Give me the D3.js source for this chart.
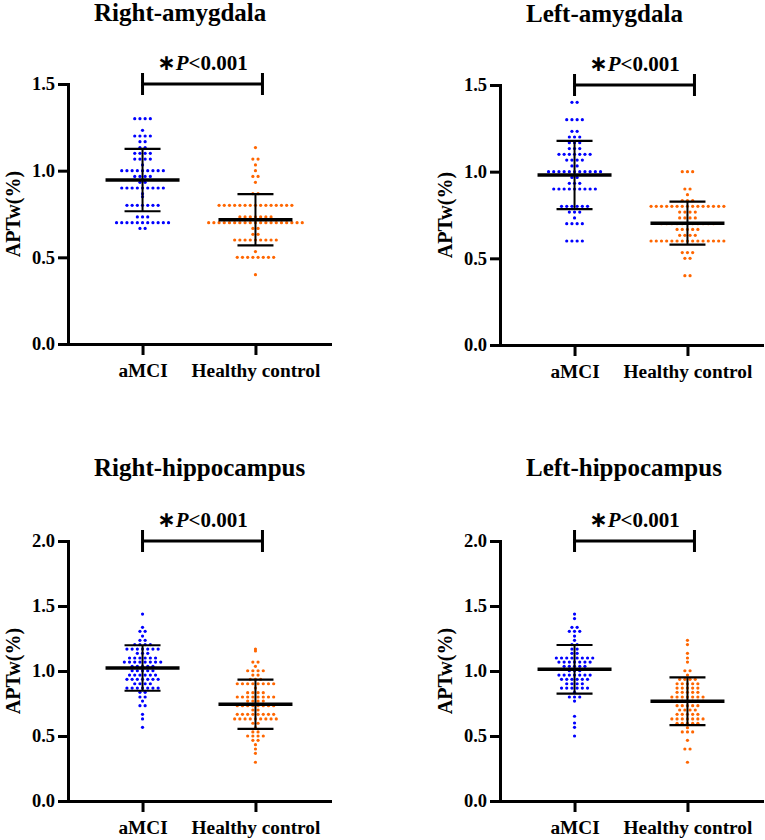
<!DOCTYPE html>
<html>
<head>
<meta charset="utf-8">
<script src="https://cdn.jsdelivr.net/npm/d3@7"></script>
<style>
  body { margin: 0; background: #fff; }
  text { font-family: "Liberation Serif", "Times New Roman", serif; font-weight: bold; }
</style>
</head>
<body>
<svg width="765" height="840"></svg>
<script>
// groups and panels
const groups = ['aMCI', 'Healthy control'];
const titles = ['Right-amygdala', 'Left-amygdala', 'Right-hippocampus', 'Left-hippocampus'];
const pText = 'P<0.001';

// binned dots: [APTw value, number of subjects in that row]
const rightAmygdalaMCI = [[1.30,4],[1.233,1],[1.20,4],[1.167,2],[1.133,2],[1.10,4],[1.067,4],[1.033,1],[1.00,9],[0.967,4],[0.933,2],[0.90,9],[0.867,1],[0.85,1],[0.80,7],[0.733,3],[0.70,11],[0.667,2]];
const rightAmygdalaHC = [[1.133,1],[1.067,2],[1.033,1],[1.00,1],[0.967,2],[0.933,1],[0.867,2],[0.80,15],[0.733,7],[0.70,19],[0.667,2],[0.633,2],[0.60,9],[0.533,1],[0.50,8],[0.40,1]];
const leftAmygdalaMCI = [[1.40,2],[1.30,4],[1.233,2],[1.20,3],[1.167,3],[1.133,3],[1.10,7],[1.067,4],[1.033,2],[1.00,11],[0.967,2],[0.933,3],[0.90,9],[0.80,6],[0.767,3],[0.733,1],[0.70,4],[0.60,4]];
const leftAmygdalaHC = [[1.00,3],[0.90,2],[0.867,1],[0.833,3],[0.80,15],[0.767,4],[0.733,4],[0.70,11],[0.667,5],[0.633,4],[0.60,15],[0.533,3],[0.50,2],[0.40,2]];
const rightHippoMCI = [[1.438,1],[1.336,1],[1.305,2],[1.269,1],[1.236,2],[1.203,4],[1.169,7],[1.136,3],[1.10,6],[1.069,8],[1.036,5],[1.002,5],[0.969,6],[0.936,7],[0.902,4],[0.869,7],[0.836,2],[0.80,2],[0.769,1],[0.733,2],[0.667,1],[0.631,1],[0.567,1]];
const rightHippoHC = [[1.169,1],[1.154,1],[1.069,2],[1.036,1],[1.002,4],[0.969,2],[0.936,3],[0.902,8],[0.869,1],[0.833,4],[0.80,8],[0.769,4],[0.733,8],[0.70,2],[0.667,8],[0.631,9],[0.598,2],[0.564,1],[0.531,2],[0.50,4],[0.467,2],[0.433,1],[0.40,1],[0.367,1],[0.298,1]];
const leftHippoMCI = [[1.438,1],[1.403,1],[1.336,2],[1.305,3],[1.269,1],[1.236,1],[1.203,2],[1.169,2],[1.136,2],[1.10,8],[1.069,7],[1.036,5],[1.002,3],[0.969,7],[0.936,6],[0.902,4],[0.869,6],[0.836,1],[0.80,3],[0.769,1],[0.652,1],[0.60,1],[0.567,1],[0.50,1]];
const leftHippoHC = [[1.236,1],[1.203,1],[1.136,1],[1.10,1],[1.069,1],[1.002,2],[0.969,1],[0.936,4],[0.902,5],[0.869,5],[0.836,5],[0.80,7],[0.769,7],[0.733,5],[0.70,4],[0.667,5],[0.631,7],[0.598,5],[0.564,1],[0.531,3],[0.467,1],[0.40,2],[0.298,1]];

// mean and SD per panel: [aMCI, HC]
const means = [[0.946, 0.717], [0.981, 0.703], [1.023, 0.744], [1.013, 0.767]];
const sds = [[0.18, 0.148], [0.197, 0.124], [0.175, 0.189], [0.187, 0.184]];

const yMax = [1.5, 1.5, 2.0, 2.0];
const yTicks = [[0, 0.5, 1.0, 1.5], [0, 0.5, 1.0, 1.5], [0, 0.5, 1.0, 1.5, 2.0], [0, 0.5, 1.0, 1.5, 2.0]];

const dots = [
  [rightAmygdalaMCI, rightAmygdalaHC],
  [leftAmygdalaMCI, leftAmygdalaHC],
  [rightHippoMCI, rightHippoHC],
  [leftHippoMCI, leftHippoHC]
];
const colors = ['#0000ff', '#ff6600'];

const svg = d3.select('svg');

// panel origin = where the y axis meets the x axis
const origins = [[68, 344], [500, 345], [68, 801], [500, 801]];
const plotH = 260;
const plotW = 262;
const dotStep = 5.2;

titles.forEach((title, k) => {
  const [ox, oy] = origins[k];
  const g = svg.append('g').attr('transform', `translate(${ox}, ${oy - plotH})`);

  const y = d3.scaleLinear().domain([0, yMax[k]]).range([plotH, 0]);
  const x = d3.scalePoint().domain(groups).range([0, plotW]).padding(0.66);

  // title, left aligned
  g.append('text')
    .attr('x', 26)
    .attr('y', k < 2 ? -63 : -65)
    .attr('font-size', 25)
    .text(title);

  // y axis
  const yAxis = g.append('g')
    .call(d3.axisLeft(y).tickValues(yTicks[k]).tickFormat(d3.format('.1f')).tickSize(10).tickSizeOuter(0).tickPadding(3));
  yAxis.select('.domain').attr('stroke-width', 3).attr('stroke-linecap', 'square');
  yAxis.selectAll('.tick line').attr('stroke-width', 3);
  yAxis.selectAll('.tick text').attr('font-size', 18.5).attr('font-family', '"Liberation Serif", serif').attr('font-weight', 'bold').attr('fill', '#000');

  // x axis
  const xAxis = g.append('g')
    .attr('transform', `translate(0, ${plotH})`)
    .call(d3.axisBottom(x).tickSize(11).tickSizeOuter(0).tickPadding(8));
  xAxis.select('.domain').attr('stroke-width', 3).attr('stroke-linecap', 'square');
  xAxis.selectAll('.tick line').attr('stroke-width', 3);
  xAxis.selectAll('.tick text').attr('font-size', 19.3).attr('font-family', '"Liberation Serif", serif').attr('font-weight', 'bold').attr('fill', '#000');

  // y label
  g.append('text')
    .attr('transform', `translate(-48, ${plotH / 2}) rotate(-90)`)
    .attr('text-anchor', 'middle')
    .attr('font-size', 20)
    .text('APTw(%)');

  // dots
  groups.forEach((grp, j) => {
    const pts = [];
    dots[k][j].forEach(([v, n]) => {
      for (let i = 0; i < n; i++) pts.push({ v: v, off: (i - (n - 1) / 2) * dotStep });
    });
    g.append('g').selectAll('circle')
      .data(pts)
      .join('circle')
      .attr('cx', d => x(grp) + d.off)
      .attr('cy', d => y(d.v))
      .attr('r', 1.6)
      .attr('fill', colors[j]);

    // mean and SD
    const cx = x(grp);
    const m = means[k][j];
    const s = sds[k][j];
    const bars = g.append('g').attr('stroke', '#000');
    bars.append('line')
      .attr('x1', cx).attr('x2', cx)
      .attr('y1', y(m + s)).attr('y2', y(m - s))
      .attr('stroke-width', 2);
    [m + s, m - s].forEach(v => {
      bars.append('line')
        .attr('x1', cx - 18).attr('x2', cx + 18)
        .attr('y1', y(v)).attr('y2', y(v))
        .attr('stroke-width', 2.2);
    });
    bars.append('line')
      .attr('x1', cx - 37).attr('x2', cx + 37)
      .attr('y1', y(m)).attr('y2', y(m))
      .attr('stroke-width', 3.5);
  });

  // significance bracket
  const bx1 = x(groups[0]);
  const bx2 = x(groups[1]) + 7;
  const by = y(yMax[k]);
  g.append('path')
    .attr('d', `M${bx1},${by - 11}V${by + 11}M${bx1},${by}H${bx2}M${bx2},${by - 11}V${by + 11}`)
    .attr('fill', 'none')
    .attr('stroke', '#000')
    .attr('stroke-width', 3);

  const pt = g.append('text')
    .attr('x', (bx1 + bx2) / 2)
    .attr('y', by - 14)
    .attr('text-anchor', 'middle')
    .attr('font-size', 21);
  pt.append('tspan').attr('font-family', 'DejaVu Sans').attr('font-size', 22).text('\u2217');
  pt.append('tspan').attr('font-style', 'italic').text(pText.slice(0, 1));
  pt.append('tspan').text(pText.slice(1));
});
</script>
</body>
</html>
